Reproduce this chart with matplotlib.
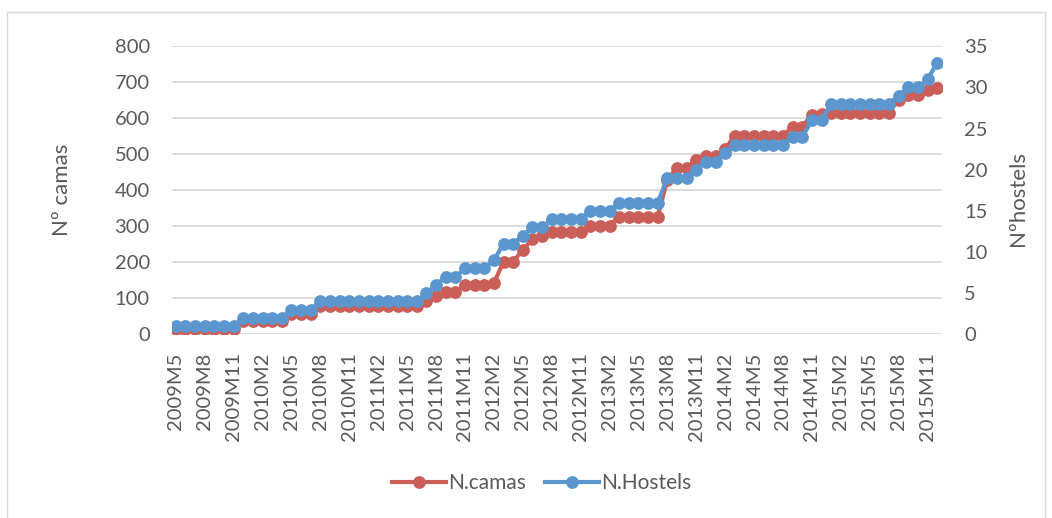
import matplotlib.pyplot as plt
from matplotlib.patches import Rectangle

# ==============================
# Data (monthly, 2009M5 - 2015M12)
# ==============================
months = []
for year in range(2009, 2016):
    for m in range(1, 13):
        if year == 2009 and m < 5:
            continue
        months.append(f"{year}M{m}")

camas = [15, 15, 15, 15, 15, 15, 15,
         37, 37, 37, 37, 37,
         57, 57, 57,
         80, 80, 80, 80, 80, 80, 80, 80, 80, 80, 80,
         93, 106, 118, 118, 137, 137, 137, 142,
         202, 202, 234, 265, 272,
         285, 285, 285, 285,
         302, 302, 302,
         327, 327, 327, 327, 327,
         430, 462, 462, 485, 495, 495, 515,
         552, 552, 552, 552, 552, 552,
         577, 577, 610, 612,
         616, 616, 616, 616, 616, 616, 616,
         652, 665, 665, 678, 683]

hostels = [1, 1, 1, 1, 1, 1, 1,
           2, 2, 2, 2, 2,
           3, 3, 3,
           4, 4, 4, 4, 4, 4, 4, 4, 4, 4, 4,
           5, 6, 7, 7, 8, 8, 8, 9,
           11, 11, 12, 13, 13,
           14, 14, 14, 14,
           15, 15, 15,
           16, 16, 16, 16, 16,
           19, 19, 19, 20, 21, 21, 22,
           23, 23, 23, 23, 23, 23,
           24, 24, 26, 26,
           28, 28, 28, 28, 28, 28, 28,
           29, 30, 30, 31, 33]

red = '#C95F58'
blue = '#5B97CE'
txt = '#595959'
grid = '#D9D9D9'

plt.rcParams['font.family'] = ['Lato', 'DejaVu Sans']

fig = plt.figure(figsize=(10.52, 5.18), dpi=100)
ax = fig.add_axes([172 / 1052, 1 - 334.3 / 518, 770 / 1052, 288 / 518])
ax2 = ax.twinx()

x = list(range(len(months)))

l1, = ax.plot(x, camas, color=red, lw=3, marker='o', ms=9.2,
              markeredgewidth=0, label='N.camas')
l2, = ax2.plot(x, hostels, color=blue, lw=3, marker='o', ms=9.2,
               markeredgewidth=0, label='N.Hostels')

ax.set_xlim(-0.4, 79.5)
ax.set_ylim(0, 800)
ax2.set_ylim(0, 35)
ax.set_yticks(range(0, 801, 100))
ax2.set_yticks(range(0, 36, 5))
ax.set_xticks(x[::3])
ax.set_xticklabels(months[::3], rotation=90, va='top', ha='center')

ax.set_axisbelow(True)
ax.yaxis.grid(True, color=grid, lw=1.3)
for a in (ax, ax2):
    for s in a.spines.values():
        s.set_visible(False)
ax.tick_params(axis='y', length=0, pad=16, labelsize=14.5, labelcolor=txt)
ax2.tick_params(axis='y', length=0, pad=16, labelsize=14.5, labelcolor=txt)
ax.tick_params(axis='x', length=0, pad=13, labelsize=14.5, labelcolor=txt)

fig.text(62 / 1052, 1 - 190 / 518, 'Nº camas', rotation=90, ha='center',
         va='center', fontsize=16, color=txt)
fig.text(1018 / 1052, 1 - 198 / 518, 'Nºhostels', rotation=90, ha='center',
         va='center', fontsize=16, color=txt)

fig.legend(handles=[l1, l2], loc='center', bbox_to_anchor=(0.515, 1 - 483 / 518),
           ncol=2, frameon=False, fontsize=15, handlelength=2.6,
           handletextpad=0.1, columnspacing=0.9, labelcolor=txt)

fig.patches.append(Rectangle((7 / 1052, -0.01), 1038 / 1052, 0.987,
                             transform=fig.transFigure, fill=False,
                             edgecolor='#D9D9D9', lw=1))

fig.savefig('out.png', dpi=100)
